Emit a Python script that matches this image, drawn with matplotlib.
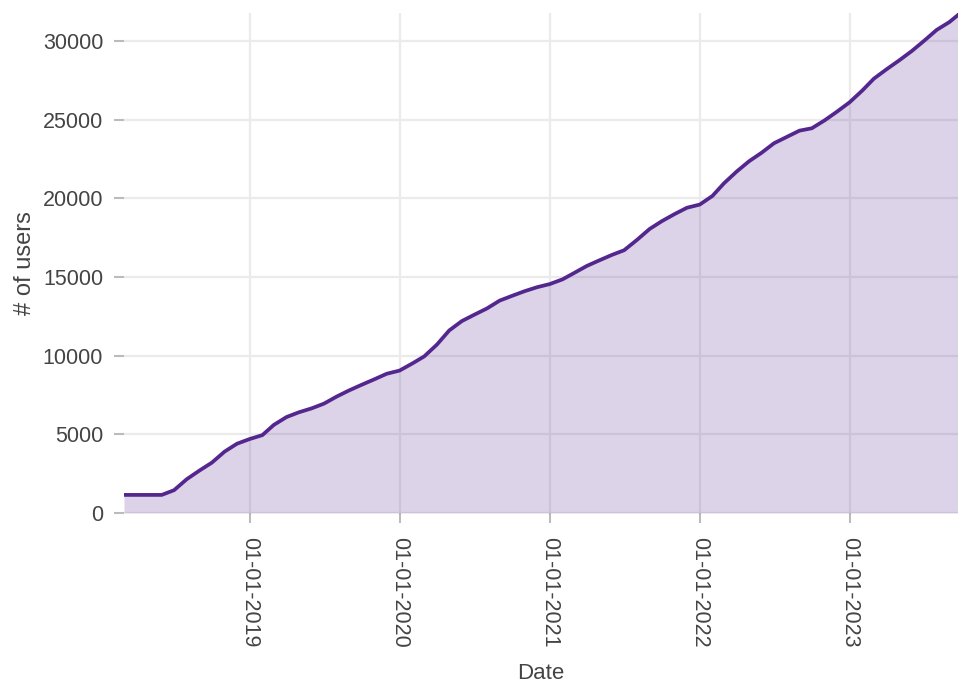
"""
    Cumulative number of users over time
"""

import numpy as np
import pandas as pd
import matplotlib
matplotlib.use('Agg')
import matplotlib.pyplot as plt
import matplotlib.dates as mdates

# month starts from 2018-03 to 2023-09, plus the last day of data
dates = list(pd.date_range('2018-03-01', '2023-09-01', freq='MS')) + [pd.Timestamp('2023-09-22')]

users = [
    1150, 1150, 1150, 1150, 1450, 2150, 2700, 3200, 3900, 4400,          # 2018
    4700, 4950, 5600, 6100, 6400, 6650, 6950, 7400, 7800, 8150, 8500, 8850,  # 2019
    9050, 9500, 9950, 10700, 11600, 12200, 12600, 13000, 13500, 13800, 14100, 14350,  # 2020
    14550, 14850, 15250, 15700, 16050, 16400, 16700, 17350, 18050, 18550, 19000, 19400,  # 2021
    19600, 20150, 20950, 21700, 22350, 22900, 23500, 23900, 24300, 24450, 24950, 25500,  # 2022
    26100, 26850, 27600, 28200, 28750, 29350, 30000, 30700, 31200,       # 2023
    31650,
]

y_ticks = [0, 5000, 10000, 15000, 20000, 25000, 30000]
x_ticks = pd.to_datetime(['2019-01-01', '2020-01-01', '2021-01-01', '2022-01-01', '2023-01-01'])

line_color = '#54278f'
text_color = '#444444'
grid_color = '#ebebeb'

plt.rcParams['font.family'] = ['Liberation Sans', 'DejaVu Sans']

fig = plt.figure(figsize=(9.58, 6.85), dpi=100)
ax = fig.add_axes([0.1294, 0.2511, 0.8706, 0.730])

ax.fill_between(dates, users, 0, color=line_color, alpha=0.2, linewidth=0)
ax.plot(dates, users, color=line_color, linewidth=2.7, solid_joinstyle='round')

ax.set_xlim(dates[0], dates[-1])
ax.set_ylim(0, 31780)
ax.set_yticks(y_ticks)
ax.set_xticks(x_ticks)
ax.xaxis.set_major_formatter(mdates.DateFormatter('%d-%m-%Y'))

ax.grid(True, color=grid_color, linewidth=1.6)
ax.set_axisbelow(True)
for spine in ax.spines.values():
    spine.set_visible(False)

ax.tick_params(axis='both', colors='#bbbbbb', length=7, width=1.5,
               labelcolor=text_color, labelsize=15.5)
ax.tick_params(axis='x', labelrotation=-90, pad=10)
ax.tick_params(axis='y', pad=8)

ax.set_xlabel('Date', color=text_color, fontsize=16, labelpad=11)
ax.set_ylabel('# of users', color=text_color, fontsize=17, labelpad=5)

fig.savefig('out.png', dpi=100)
